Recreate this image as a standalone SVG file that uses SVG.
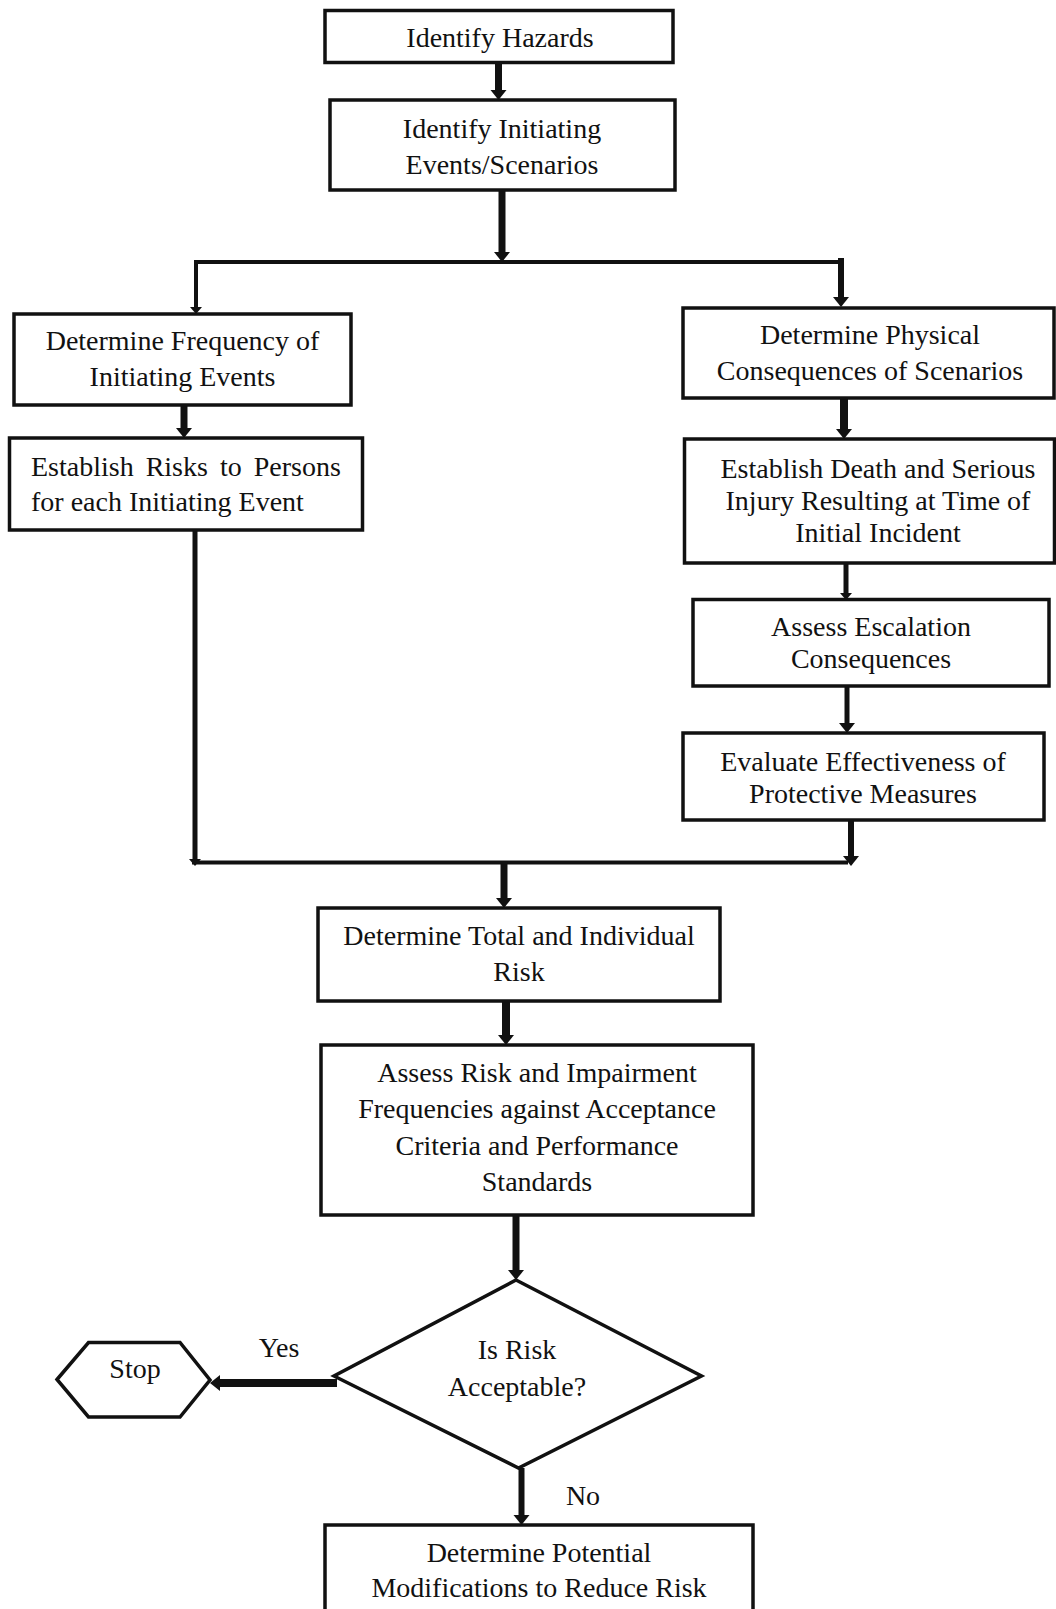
<svg xmlns="http://www.w3.org/2000/svg" width="1056" height="1609" viewBox="0 0 1056 1609">
<style>
  .box { fill: #ffffff; stroke: #111111; stroke-width: 3.5; }
  .t { font-family: "Liberation Serif", "Times New Roman", serif; font-size: 28px; fill: #111111; text-anchor: middle; }
  .ts { font-family: "Liberation Serif", "Times New Roman", serif; font-size: 28px; fill: #111111; text-anchor: start; }
  .c { fill: none; stroke: #111111; stroke-linecap: butt; stroke-linejoin: miter; }
</style>
<defs>
  <marker id="ah" markerUnits="userSpaceOnUse" markerWidth="20" markerHeight="20" refX="0" refY="8" orient="auto">
    <path d="M0,0 L10,8 L0,16 z" fill="#111111"/>
  </marker>
  <marker id="ahs" markerUnits="userSpaceOnUse" markerWidth="16" markerHeight="16" refX="0" refY="6" orient="auto">
    <path d="M0,0 L7,6 L0,12 z" fill="#111111"/>
  </marker>
</defs>
<rect x="0" y="0" width="1056" height="1609" fill="#ffffff"/>

<g id="connectors">
  <path class="c" d="M498.5,63 V90" stroke-width="7" marker-end="url(#ah)"/>
  <path class="c" d="M502,190 V252" stroke-width="7" marker-end="url(#ah)"/>
  <path class="c" d="M194,262 H843" stroke-width="4"/>
  <path class="c" d="M196,260 V307" stroke-width="4" marker-end="url(#ahs)"/>
  <path class="c" d="M841,258 V297" stroke-width="6" marker-end="url(#ah)"/>
  <path class="c" d="M184,405 V428" stroke-width="7" marker-end="url(#ah)"/>
  <path class="c" d="M844,398 V429" stroke-width="8" marker-end="url(#ah)"/>
  <path class="c" d="M846,563 V593" stroke-width="5" marker-end="url(#ahs)"/>
  <path class="c" d="M847,686 V723" stroke-width="5" marker-end="url(#ah)"/>
  <path class="c" d="M851,820 V856" stroke-width="6" marker-end="url(#ah)"/>
  <path class="c" d="M195,530 V859" stroke-width="5" marker-end="url(#ahs)"/>
  <path class="c" d="M192,862.5 H848" stroke-width="4"/>
  <path class="c" d="M504,862 V898" stroke-width="7" marker-end="url(#ah)"/>
  <path class="c" d="M506,1001 V1035" stroke-width="8" marker-end="url(#ah)"/>
  <path class="c" d="M516,1215 V1270" stroke-width="7" marker-end="url(#ah)"/>
  <path class="c" d="M337,1383 H220" stroke-width="8" marker-end="url(#ah)"/>
  <path class="c" d="M521.5,1468 V1515" stroke-width="6" marker-end="url(#ah)"/>
  <text class="t" x="279" y="1357">Yes</text>
  <text class="t" x="583" y="1505">No</text>
</g>

<g id="n-identify-hazards">
  <rect class="box" x="325" y="10.5" width="348" height="52"/>
  <text class="t" x="500" y="47">Identify Hazards</text>
</g>

<g id="n-initiating-events">
  <rect class="box" x="330" y="100" width="345" height="90"/>
  <text class="t" x="502" y="138">Identify Initiating</text>
  <text class="t" x="502" y="174">Events/Scenarios</text>
</g>

<g id="n-frequency">
  <rect class="box" x="14" y="314" width="337" height="91"/>
  <text class="t" x="182.5" y="350">Determine Frequency of</text>
  <text class="t" x="182.5" y="386">Initiating Events</text>
</g>

<g id="n-risks-persons">
  <rect class="box" x="9.5" y="438" width="353" height="92"/>
  <text class="ts" x="31" y="476" word-spacing="5">Establish Risks to Persons</text>
  <text class="ts" x="31" y="511">for each Initiating Event</text>
</g>

<g id="n-physical">
  <rect class="box" x="683" y="308" width="371" height="90"/>
  <text class="t" x="870" y="344">Determine Physical</text>
  <text class="t" x="870" y="380">Consequences of Scenarios</text>
</g>

<g id="n-death-injury">
  <rect class="box" x="684.5" y="439" width="370" height="124"/>
  <text class="t" x="878" y="478">Establish Death and Serious</text>
  <text class="t" x="878" y="510">Injury Resulting at Time of</text>
  <text class="t" x="878" y="542">Initial Incident</text>
</g>

<g id="n-escalation">
  <rect class="box" x="693" y="599.5" width="356" height="86.5"/>
  <text class="t" x="871" y="636">Assess Escalation</text>
  <text class="t" x="871" y="668">Consequences</text>
</g>

<g id="n-protective">
  <rect class="box" x="683" y="733" width="361" height="87"/>
  <text class="t" x="863" y="771">Evaluate Effectiveness of</text>
  <text class="t" x="863" y="803">Protective Measures</text>
</g>

<g id="n-total-risk">
  <rect class="box" x="318" y="908" width="402" height="93"/>
  <text class="t" x="519" y="945">Determine Total and Individual</text>
  <text class="t" x="519" y="981">Risk</text>
</g>

<g id="n-assess-risk">
  <rect class="box" x="321" y="1045" width="432" height="170"/>
  <text class="t" x="537" y="1082">Assess Risk and Impairment</text>
  <text class="t" x="537" y="1118">Frequencies against Acceptance</text>
  <text class="t" x="537" y="1155">Criteria and Performance</text>
  <text class="t" x="537" y="1191">Standards</text>
</g>

<g id="n-decision">
  <polygon class="box" points="516,1280 701.5,1376 518.5,1468 334,1376"/>
  <text class="t" x="517" y="1359">Is Risk</text>
  <text class="t" x="517" y="1396">Acceptable?</text>
</g>

<g id="n-stop">
  <polygon class="box" points="57,1379.5 88.5,1342.5 180,1342.5 210,1380 180,1417 88.5,1417"/>
  <text class="t" x="135" y="1378">Stop</text>
</g>

<g id="n-modifications">
  <rect class="box" x="325" y="1525" width="428" height="100"/>
  <text class="t" x="539" y="1562">Determine Potential</text>
  <text class="t" x="539" y="1597">Modifications to Reduce Risk</text>
</g>
</svg>
